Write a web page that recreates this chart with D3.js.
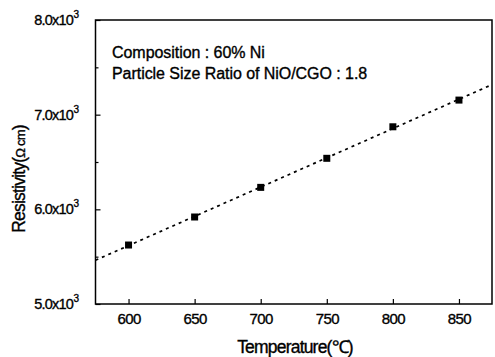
<!DOCTYPE html>
<html>
<head>
<meta charset="utf-8">
<script src="https://cdn.jsdelivr.net/npm/d3@7"></script>
<style>
  body { margin: 0; background: #fff; }
  text { font-family: "Liberation Sans", Arial, sans-serif; fill: #000; stroke: #000; stroke-width: 0.35px; }
</style>
</head>
<body>
<div class="grafico"></div>
<script>
// data
const temperatures = [600, 650, 700, 750, 800, 850];
const resistivity = [5623, 5919, 6232, 6539, 6872, 7154];
const xTicks = [600, 650, 700, 750, 800, 850];
const yTicks = [5000, 6000, 7000, 8000];
const yMinorTicks = [5500, 6500, 7500];
const notes = ["Composition : 60% Ni", "Particle Size Ratio of NiO/CGO : 1.8"];

const width = 495, height = 357;
const margin = {top: 20, right: 3, bottom: 53, left: 95.5};

const svg = d3.select(".grafico")
    .append("svg")
    .attr("width", width)
    .attr("height", height);

const x = d3.scaleLinear()
    .domain([575, 875])
    .range([margin.left, width - margin.right]);

const y = d3.scaleLinear()
    .domain([5000, 8000])
    .range([height - margin.bottom, margin.top]);

// least squares fit for the dotted line
const mx = d3.mean(temperatures), my = d3.mean(resistivity);
const slope = d3.sum(temperatures, (t, i) => (t - mx) * (resistivity[i] - my)) /
              d3.sum(temperatures, t => (t - mx) * (t - mx));
const fit = t => my + slope * (t - mx);

svg.append("path")
    .datum(x.domain())
    .attr("d", d3.line().x(d => x(d)).y(d => y(fit(d))))
    .attr("fill", "none")
    .attr("stroke", "#000")
    .attr("stroke-width", 1.7)
    .attr("stroke-dasharray", "3,4");

// squares
svg.selectAll("rect.pt")
    .data(temperatures)
    .enter().append("rect")
    .attr("class", "pt")
    .attr("x", d => x(d) - 3.5)
    .attr("y", (d, i) => y(resistivity[i]) - 3.5)
    .attr("width", 7)
    .attr("height", 7)
    .attr("fill", "#000");

// axes, ticks pointing inward
const xAxis = svg.append("g")
    .attr("transform", `translate(0,${height - margin.bottom})`)
    .call(d3.axisBottom(x).tickValues(xTicks).tickSizeInner(-5).tickSizeOuter(0).tickPadding(9));
xAxis.selectAll("text")
    .attr("font-size", 15)
    .attr("letter-spacing", -0.6)
    .attr("fill", null);

svg.append("g")
    .attr("transform", `translate(${margin.left},0)`)
    .call(d3.axisLeft(y).tickValues(yTicks).tickSizeInner(-5).tickSizeOuter(0).tickFormat(""));

svg.append("g")
    .attr("transform", `translate(${margin.left},0)`)
    .call(d3.axisLeft(y).tickValues(yMinorTicks).tickSizeInner(-3).tickSizeOuter(0).tickFormat(""));

svg.selectAll(".domain").remove();
svg.selectAll("g").attr("font-family", null);
svg.selectAll(".tick line").attr("stroke", "#000").attr("stroke-width", 1.2);

// y tick labels with superscript
svg.append("g").selectAll("text")
    .data(yTicks)
    .enter().append("text")
    .attr("x", 73)
    .attr("y", d => y(d) + 5)
    .attr("text-anchor", "end")
    .attr("font-size", 14.5)
    .attr("letter-spacing", -0.8)
    .text(d => (d / 1000).toFixed(1) + "x10");
svg.append("g").selectAll("text")
    .data(yTicks)
    .enter().append("text")
    .attr("x", 73.5)
    .attr("y", d => y(d) - 2)
    .attr("font-size", 10)
    .text("3");

// frame
svg.append("rect")
    .attr("x", margin.left)
    .attr("y", margin.top)
    .attr("width", width - margin.left - margin.right)
    .attr("height", height - margin.top - margin.bottom)
    .attr("fill", "none")
    .attr("stroke", "#000")
    .attr("stroke-width", 1.5);

// annotations
svg.selectAll("text.note")
    .data(notes)
    .enter().append("text")
    .attr("class", "note")
    .attr("x", 112)
    .attr("y", (d, i) => 58 + i * 21)
    .attr("font-size", 16)
    .attr("letter-spacing", -0.05)
    .text(d => d);

// axis titles
svg.append("text")
    .attr("x", 295)
    .attr("y", 353)
    .attr("text-anchor", "middle")
    .attr("font-size", 17.5)
    .attr("letter-spacing", -0.8)
    .text("Temperature(\u2103)");

const yt = svg.append("text")
    .attr("transform", "translate(25,179) rotate(-90)")
    .attr("text-anchor", "middle")
    .attr("font-size", 17.5)
    .attr("letter-spacing", -0.8);
yt.append("tspan").text("Resistivity(");
yt.append("tspan").attr("font-size", 13).text("\u03A9 cm");
yt.append("tspan").text(")");
</script>
</body>
</html>
